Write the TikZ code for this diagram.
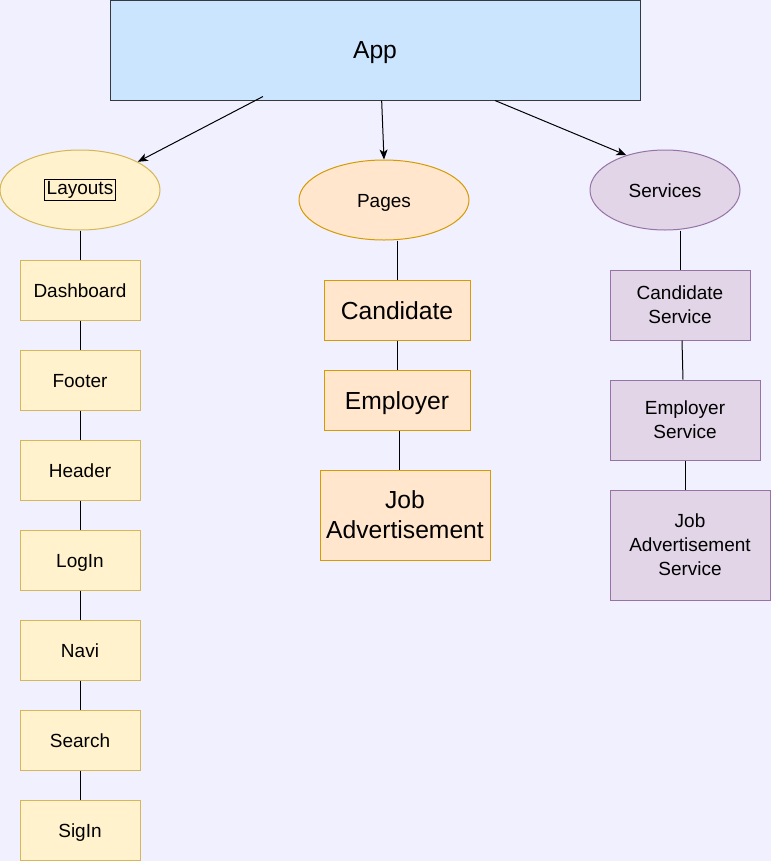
\documentclass[tikz,border=0pt]{standalone}
\usepackage{fontspec}
\setmainfont{Liberation Sans}
\usetikzlibrary{shapes.geometric,arrows.meta}

\definecolor{bgcol}{RGB}{240,240,255}
\definecolor{appfill}{RGB}{204,229,255}
\definecolor{appline}{RGB}{54,57,61}
\definecolor{layfill}{RGB}{255,242,204}
\definecolor{layline}{RGB}{214,182,86}
\definecolor{pagfill}{RGB}{255,230,204}
\definecolor{pagline}{RGB}{215,155,0}
\definecolor{srvfill}{RGB}{225,213,231}
\definecolor{srvline}{RGB}{150,115,166}

\setlength{\fboxsep}{1.2pt}
\setlength{\fboxrule}{0.75pt}

\tikzset{every picture/.style={line width=0.75pt},
  smalltxt/.style={font=\fontsize{14.25}{18}\selectfont},
  bigtxt/.style={font=\fontsize{18.5}{22.5}\selectfont},
  smallline/.style={smalltxt, text height=11.5pt, text depth=0.4pt},
  bigline/.style={bigtxt, text height=14.9pt, text depth=0.5pt},
  box/.style={rectangle, inner sep=0pt, align=center},
  oval/.style={ellipse, inner sep=0pt, align=center, smalltxt, minimum height=60pt},
  appbox/.style={box, bigtxt, text height=12.5pt, text depth=0.5pt, draw=appline, fill=appfill},
  laybox/.style={box, smallline, draw=layline, fill=layfill, minimum width=90pt, minimum height=45pt},
  pagbox/.style={box, bigtxt, draw=pagline, fill=pagfill},
  srvbox/.style={box, smalltxt, draw=srvline, fill=srvfill},
  arr/.style={-{Stealth[length=7.5pt,width=6pt,inset=2pt]}}
}

\begin{document}
\begin{tikzpicture}[x=0.75pt,y=0.75pt,yscale=-1,xscale=1]
\useasboundingbox (0,0) rectangle (771,861);
\fill[bgcol] (0,0) rectangle (771,861);

%Rectangle: App
\node[appbox, minimum width=397.5pt, minimum height=75pt] (app) at (375,50) {App};

%Ellipses
\node[oval, draw=layline, fill=layfill, minimum width=120pt] (lay) at (80,190) {\fbox{Layouts}};
\node[oval, smallline, draw=pagline, fill=pagfill, minimum width=127.5pt] (pag) at (384,200) {Pages};
\node[oval, smallline, draw=srvline, fill=srvfill, minimum width=112.5pt] (srv) at (665,190) {Services};

%Layout boxes
\foreach \nm/\txt [count=\i from 0] in {dash/Dashboard, foot/Footer, head/Header, login/LogIn, navi/Navi, search/Search, sigin/SigIn}
  \node[laybox] (\nm) at (80,290+90*\i) {\txt};

%Page boxes
\node[pagbox, bigline, minimum width=109.5pt, minimum height=45pt] (cand) at (397,310) {Candidate};
\node[pagbox, bigline, minimum width=109.5pt, minimum height=45pt] (empl) at (397,400) {Employer};
\node[pagbox, minimum width=127.5pt, minimum height=67.5pt] (jobad) at (405,515) {Job\\Advertisement};

%Service boxes
\node[srvbox, minimum width=105pt, minimum height=52.5pt] (candsrv) at (680,305) {Candidate\\Service};
\node[srvbox, minimum width=112.5pt, minimum height=60pt] (emplsrv) at (685,420) {Employer\\Service};
\node[srvbox, minimum width=120pt, minimum height=82.5pt] (jobsrv) at (690,545) {Job\\Advertisement\\Service};

%Arrows
\draw[arr] ([xshift=-84pt,yshift=-3pt]app.south) -- (lay.26);
\draw[arr] ([xshift=5pt]app.south) -- (pag.north);
\draw[arr] ([xshift=90pt]app.south) -- (srv.138);

%Straight Lines
\foreach \a/\b in {lay/dash, dash/foot, foot/head, head/login, login/navi, navi/search, search/sigin}
  \draw (\a) -- (\b);
\draw (pag.south -| cand.north) -- (cand.north);
\draw (cand) -- (empl);
\draw ([xshift=1.5pt]empl.south) -- ([xshift=1.5pt]empl.south |- jobad.north);
\draw (srv.south -| candsrv.north) -- (candsrv.north);
\draw ([xshift=1.5pt]candsrv.south) -- ([xshift=-1.5pt]emplsrv.north);
\draw (emplsrv.south) -- (emplsrv.south |- jobsrv.north);

\end{tikzpicture}
\end{document}
